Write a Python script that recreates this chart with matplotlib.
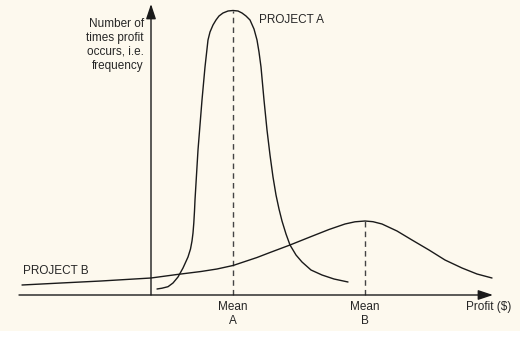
import matplotlib
matplotlib.use("Agg")
import matplotlib.pyplot as plt
from matplotlib.patches import Rectangle

plt.rcParams['font.family'] = ['Liberation Sans', 'DejaVu Sans']

# Frequency of each profit level (arbitrary units), Project A: narrow, tall
profit_a = [6, 11, 17, 22, 27, 32, 37, 39.5, 41, 42, 42.8, 43.5, 44, 45.5, 47, 49, 51, 54, 57, 59,
            62, 65, 68, 72, 77, 82, 87, 91, 95, 99, 103, 106, 108, 110, 113, 116, 119, 122,
            125, 128, 131, 135, 139, 145, 151, 160, 171, 183, 197]
freq_a = [6, 6.8, 8.3, 12, 18, 27, 38, 46, 54, 62, 72, 84, 95, 120, 145, 170, 195, 228, 255, 263,
          270, 275, 279, 282, 284, 284.5, 284, 282, 279, 275, 266, 255, 243, 228, 195, 165, 140, 118,
          100, 86, 74, 61, 50, 40, 33, 25, 20, 16, 13]

# Project B: wide, flat spread
profit_b = [-129, -90, -50, 0, 26, 50, 66, 82, 94, 106, 119, 139, 159, 178, 194, 204, 214,
            222, 231, 246, 261, 278, 294, 311, 326, 341]
freq_b = [10, 12, 14, 17, 20.5, 23.5, 26, 29.5, 33.5, 37.5, 42.5, 50, 58, 65.5, 71, 73.2, 74,
          73.3, 71, 64, 55, 45, 35, 27, 21, 17]

mean_a = 82
mean_b = 214
peak_a = 284.5
peak_b = 74

ink = "#1a1a1a"
text_c = "#262626"

fig = plt.figure(figsize=(5.24, 3.44), dpi=100)
fig.patch.set_facecolor("white")
ax = fig.add_axes([0, 0, 1, 1])
ax.set_xlim(-151, 373)
ax.set_ylim(-49, 295)
ax.axis("off")

# panel background
ax.add_patch(Rectangle((-151, -36), 520, 340, facecolor="#fdf9ee", edgecolor="none", zorder=0))

# axes with arrowheads
ax.annotate("", xy=(0, 291), xytext=(0, 0),
            arrowprops=dict(arrowstyle="-|>,head_length=0.9,head_width=0.3",
                            color=ink, lw=1.0, shrinkA=0, shrinkB=0))
ax.annotate("", xy=(342, 0), xytext=(-132, 0),
            arrowprops=dict(arrowstyle="-|>,head_length=0.9,head_width=0.3",
                            color=ink, lw=1.0, shrinkA=0, shrinkB=0))

# distributions
ax.plot(profit_a, freq_a, color=ink, lw=1.0, solid_capstyle="round",
        solid_joinstyle="round", zorder=3)
ax.plot(profit_b, freq_b, color=ink, lw=1.0, solid_capstyle="round",
        solid_joinstyle="round", zorder=3)

# mean markers
ax.plot([mean_a, mean_a], [0, peak_a], color="#444444", lw=1.0, dashes=(4, 3), zorder=2)
ax.plot([mean_b, mean_b], [0, peak_b], color="#444444", lw=1.0, dashes=(4, 3), zorder=2)

fs = 8.5
ax.text(-7, 250, "Number of\ntimes profit\noccurs, i.e.\nfrequency", ha="right", va="center",
        multialignment="right", fontsize=fs, color=text_c, linespacing=1.2)
ax.text(108, 275, "PROJECT A", ha="left", va="center", fontsize=fs, color=text_c)
ax.text(-128, 24, "PROJECT B", ha="left", va="center", fontsize=fs, color=text_c)
ax.text(mean_a, -19, "Mean\nA", ha="center", va="center", fontsize=fs, color=text_c, linespacing=1.2)
ax.text(mean_b, -19, "Mean\nB", ha="center", va="center", fontsize=fs, color=text_c, linespacing=1.2)
ax.text(315, -12, "Profit ($)", ha="left", va="center", fontsize=fs, color=text_c)

fig.savefig("out.png", dpi=100, facecolor="white")
